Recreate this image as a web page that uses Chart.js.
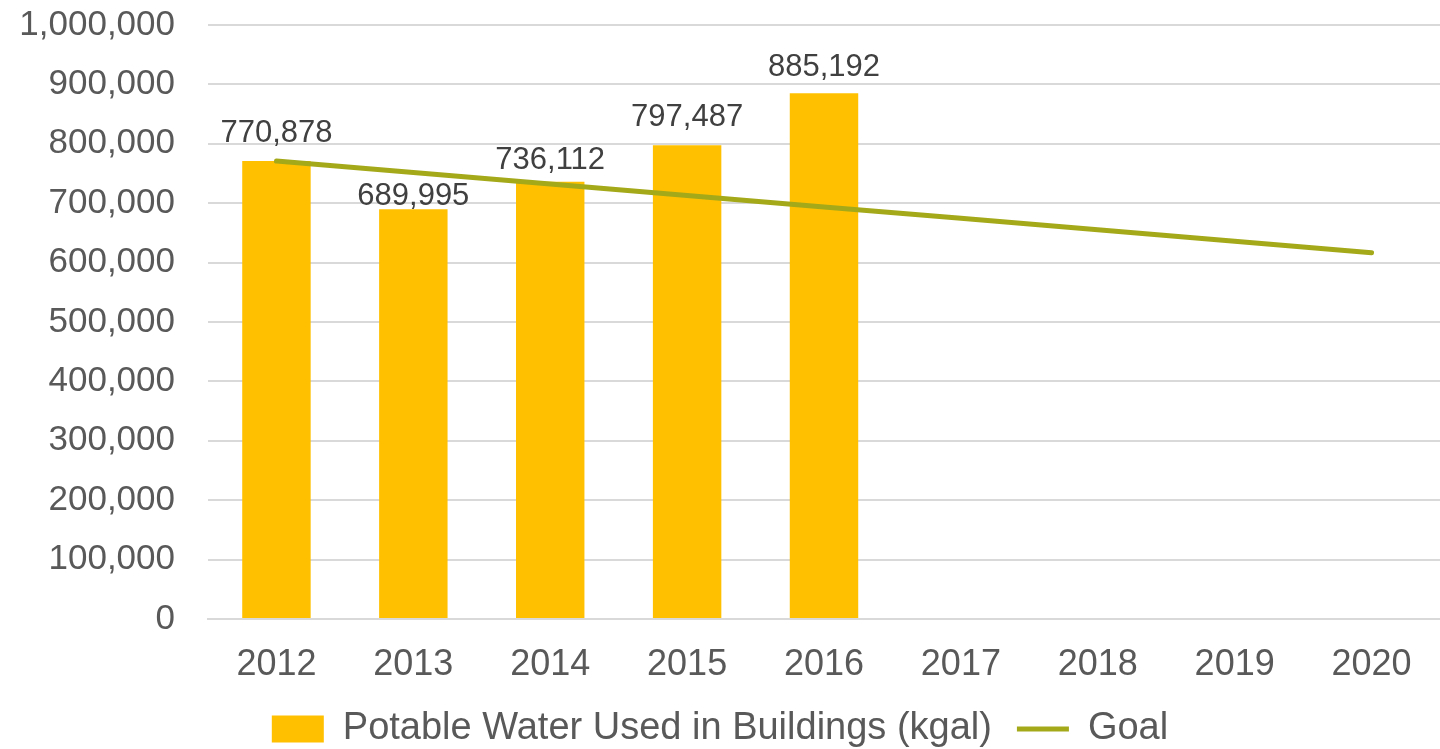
<!DOCTYPE html>
<html>
<head>
<meta charset="utf-8">
<script src="https://cdn.jsdelivr.net/npm/chart.js@4/dist/chart.umd.min.js"></script>
<style>
  html, body { margin: 0; padding: 0; background: #fff; }
  #wrap { width: 1440px; height: 749px; }
</style>
</head>
<body>
<div id="wrap"><canvas id="chart" width="1440" height="749"></canvas></div>
<script>
'use strict';
// values
const years = ['2012', '2013', '2014', '2015', '2016', '2017', '2018', '2019', '2020'];
const waterUsed = [770878, 689995, 736112, 797487, 885192, null, null, null, null];
const goal = [770878, 751606, 732334, 713061, 693790, 674517, 655246, 635974, 616702];
const yTicks = [0, 100000, 200000, 300000, 400000, 500000, 600000, 700000, 800000, 900000, 1000000];

const FONT = '"Liberation Sans", Arial, sans-serif';
const fmt = function(v) { return Number(v).toLocaleString('en-US'); };

// value labels above the bars (2013 label sits lower, under the goal line)
const barLabels = {
    id: 'barLabels',
    afterDatasetsDraw: function(chart, args, opts) {
        const ctx = chart.ctx;
        const meta = chart.getDatasetMeta(0);
        ctx.save();
        ctx.font = '31px ' + FONT;
        ctx.fillStyle = '#404040';
        ctx.textAlign = 'center';
        ctx.textBaseline = 'alphabetic';
        meta.data.forEach(function(bar, i) {
            if (waterUsed[i] == null) return;
            const gap = opts.gaps[i] != null ? opts.gaps[i] : 19;
            ctx.fillText(fmt(waterUsed[i]), bar.x, bar.y - gap);
        });
        ctx.restore();
    }
};

const chart = new Chart(document.getElementById('chart'), {
    type: 'bar',
    data: {
        labels: years,
        datasets: [{
            type: 'bar',
            label: 'Potable Water Used in Buildings (kgal)',
            data: waterUsed,
            backgroundColor: '#FFC000',
            borderWidth: 0,
            barPercentage: 0.5,
            categoryPercentage: 1,
            order: 1
        }, {
            type: 'line',
            label: 'Goal',
            data: goal,
            borderColor: '#A4A91A',
            backgroundColor: '#A4A91A',
            borderWidth: 5,
            borderCapStyle: 'round',
            pointRadius: 0,
            tension: 0,
            order: 0
        }]
    },
    options: {
        responsive: false,
        animation: false,
        layout: { padding: { top: 25, right: 0, left: 0, bottom: -9 } },
        plugins: {
            tooltip: { enabled: false },
            barLabels: { gaps: [19, 4, 13, 19, 17] },
            legend: {
                position: 'bottom',
                labels: {
                    font: { family: FONT, size: 38 },
                    color: '#595959',
                    usePointStyle: true,
                    pointStyleWidth: 52,
                    boxHeight: 27,
                    padding: 25,
                    sort: function(a, b) { return a.datasetIndex - b.datasetIndex; },
                    generateLabels: function(c) {
                        const items = Chart.defaults.plugins.legend.labels.generateLabels(c);
                        items.forEach(function(it) {
                            it.pointStyle = it.datasetIndex === 0 ? 'rect' : 'line';
                        });
                        return items;
                    }
                }
            }
        },
        scales: {
            x: {
                grid: { display: false },
                border: { color: '#D9D9D9', width: 2 },
                ticks: {
                    font: { family: FONT, size: 36 },
                    color: '#595959',
                    padding: 16
                },
                afterFit: function(scale) { scale.height = 66; }
            },
            y: {
                min: 0,
                max: 1000000,
                afterBuildTicks: function(scale) {
                    scale.ticks = yTicks.map(function(v) { return { value: v }; });
                },
                grid: { color: '#D9D9D9', lineWidth: 2, drawTicks: true, tickLength: 33, tickColor: 'rgba(0,0,0,0)' },
                border: { display: false },
                ticks: {
                    font: { family: FONT, size: 35 },
                    color: '#595959',
                    padding: 0,
                    callback: function(v) { return fmt(v); }
                },
                afterFit: function(scale) { scale.width = 208; }
            }
        }
    },
    plugins: [barLabels]
});
</script>
</body>
</html>
